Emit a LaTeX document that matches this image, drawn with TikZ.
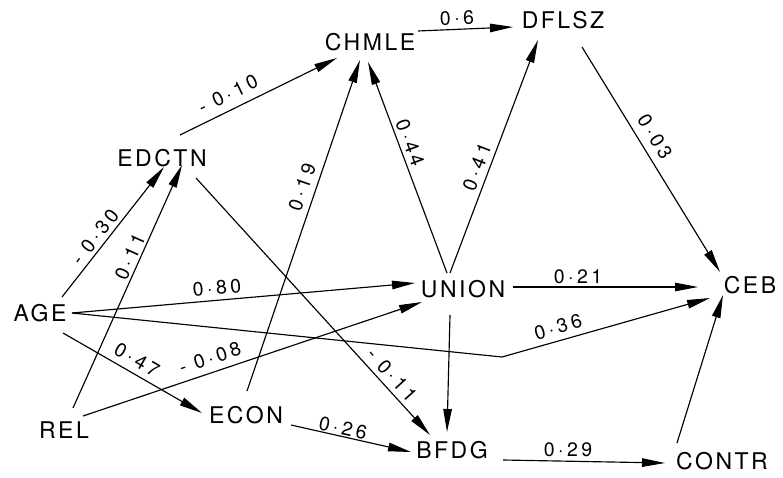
\documentclass[tikz,border=0pt]{standalone}
\usepackage{fontspec}
\setmainfont{TeX Gyre Heros}
\newfontfamily\nodefont[LetterSpace=11]{TeX Gyre Heros}
\newfontfamily\labfont[LetterSpace=18]{TeX Gyre Heros}
\usetikzlibrary{arrows.meta,calc}
\begin{document}
\begin{tikzpicture}[x=1pt,y=-1pt,
  var/.style={inner sep=0pt,font=\nodefont\fontsize{23}{27}\selectfont},
  lab/.style={inner sep=0pt,font=\labfont\fontsize{19.5}{23}\selectfont},
  conn/.style={line width=1.15pt,-{Triangle[length=23pt,width=8.5pt]}}]
\useasboundingbox (0,0) rectangle (783,478);
% variables
\node[var] (chmle) at (370,42) {CHMLE};
\node[var] (dflsz) at (563,20) {DFLSZ};
\node[var] (edctn) at (162,158) {EDCTN};
\node[var] (age)   at (40,313) {AGE};
\node[var] (union) at (463,289) {UNION};
\node[var] (ceb)   at (750,285) {CEB};
\node[var] (rel)   at (64,430) {REL};
\node[var] (econ)  at (246,415) {ECON};
\node[var] (bfdg)  at (452,450) {BFDG};
\node[var] (contr) at (722,461) {CONTR};
\coordinate (bend) at (502,357);
% connectors
\draw[conn] ($(edctn)+(18,-23)$) -- ($(chmle)+(-33,16)$);
\draw[conn] ($(chmle)+(48,-11)$) -- ($(dflsz)+(-50,7)$);
\draw[conn] ($(age)+(22,-16)$) -- ($(edctn)+(2,9)$);
\draw[conn] ($(rel)+(9,-22)$) -- ($(edctn)+(20,7)$);
\draw[conn] ($(edctn)+(34,20)$) -- ($(bfdg)+(-22,-15)$);
\draw[conn] ($(econ)+(1,-24)$) -- ($(chmle)+(-10,18)$);
\draw[conn] ($(union)+(-16,-16)$) -- ($(chmle)+(-2,20)$);
\draw[conn] ($(union)+(-13,-16)$) -- ($(dflsz)+(-25,20)$);
\draw[conn] ($(dflsz)+(19,27)$) -- ($(ceb)+(-30,-13)$);
\draw[conn] ($(age)+(32,0)$) -- ($(union)+(-48,-6)$);
\draw[conn] ($(age)+(32,0)$) -- (bend) -- ($(ceb)+(-40,13)$);
\draw[conn] ($(age)+(23,20)$) -- ($(econ)+(-44,-2)$);
\draw[conn] ($(rel)+(19,-14)$) -- ($(union)+(-41,13)$);
\draw[conn] ($(econ)+(45,10)$) -- ($(bfdg)+(-41,2)$);
\draw[conn] ($(union)+(50,-2)$) -- ($(ceb)+(-52,2)$);
\draw[conn] ($(union)+(-13,26)$) -- ($(bfdg)+(-5,-18)$);
\draw[conn] ($(bfdg)+(51,10)$) -- ($(contr)+(-57,2)$);
\draw[conn] ($(contr)+(-45,-18)$) -- ($(ceb)+(-27,10)$);
% path coefficients
\node[lab,rotate=26]   (l1)  at (228,94)  {- 0·10};
\node[lab,rotate=2]    (l2)  at (457,18)  {0·6};
\node[lab,rotate=52]   (l3)  at (95,237)  {- 0·30};
\node[lab,rotate=66]   (l4)  at (130,257) {0·11};
\node[lab,rotate=71]   (l5)  at (302,187) {0·19};
\node[lab,rotate=-69.5] (l6) at (410,143) {0·44};
\node[lab,rotate=69]   (l7)  at (477,167) {0·41};
\node[lab,rotate=-58.5] (l8) at (655,137) {0·03};
\node[lab,rotate=5]    (l9)  at (217,288) {0·80};
\node[lab,rotate=16]   (l10) at (558,327) {0·36};
\node[lab,rotate=-30]  (l11) at (137,360) {0·47};
\node[lab,rotate=18.6] (l12) at (210,358) {- 0·08};
\node[lab,rotate=-47.7] (l13) at (392,375) {- 0·11};
\node[lab,rotate=-12.6] (l14) at (343,428) {0·26};
\node[lab]             (l15) at (578,277) {0·21};
\node[lab]             (l16) at (568,450) {0·29};
\end{tikzpicture}
\end{document}
